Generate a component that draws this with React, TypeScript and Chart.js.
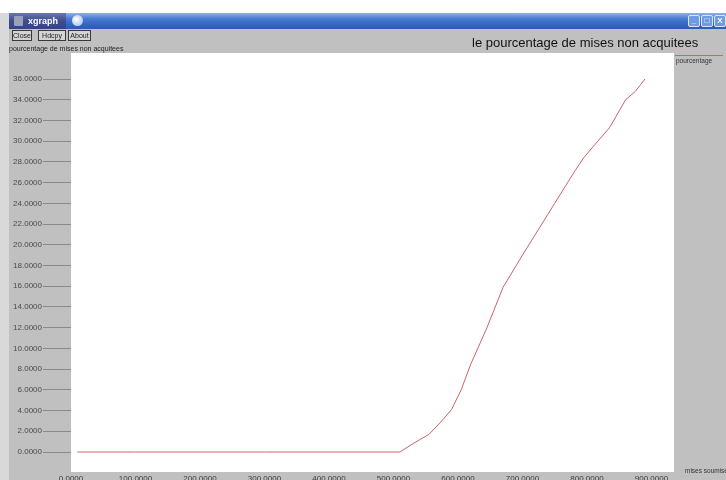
import React, { useEffect, useRef } from "react";
import { Chart, registerables } from "chart.js";

Chart.register(...registerables);

// ---- data ----
const xValues = [10, 100, 200, 300, 400, 500, 510, 530, 555, 575, 590, 605, 620, 645, 670, 700, 730, 750, 780, 795, 810, 835, 860, 875, 890];
const pctValues = [0, 0, 0, 0, 0, 0, 0, 0.8, 1.7, 3.0, 4.1, 6.0, 8.5, 12.0, 15.9, 19.0, 22.0, 24.0, 27.0, 28.4, 29.5, 31.3, 34.0, 34.8, 36.0];
const xTicks = [0, 100, 200, 300, 400, 500, 600, 700, 800, 900];
const yTicks = [0, 2, 4, 6, 8, 10, 12, 14, 16, 18, 20, 22, 24, 26, 28, 30, 32, 34, 36];

const windowTitle = "xgraph";
const buttonLabels = ["Close", "Hdcpy", "About"];
const chartTitle = "le pourcentage de mises non acquitees";
const yAxisLabel = "pourcentage de mises non acquitees";
const xAxisLabel = "mises soumises";
const seriesName = "pourcentage";

const FONT = "'Liberation Sans', Arial, sans-serif";
const CANVAS_H = 492;

const bgPlugin = {
  id: "bgPlugin",
  beforeDraw(chart: any) {
    const { ctx, width, height, chartArea } = chart;
    ctx.save();
    ctx.fillStyle = "#c0c0c0";
    ctx.fillRect(0, 0, width, height);
    ctx.fillStyle = "#d9d9d9";
    ctx.fillRect(0, 0, 9, height);
    ctx.fillStyle = "#ffffff";
    ctx.fillRect(chartArea.left, chartArea.top, chartArea.right - chartArea.left, chartArea.bottom - chartArea.top);
    ctx.restore();
  },
};

export default function App() {
  const ref = useRef<HTMLCanvasElement | null>(null);

  useEffect(() => {
    if (!ref.current) return;
    const chart = new Chart(ref.current, {
      type: "line",
      data: {
        datasets: [
          {
            label: seriesName,
            data: xValues.map((x, i) => ({ x, y: pctValues[i] })),
            borderColor: "#cd6468",
            borderWidth: 1,
            pointRadius: 0,
            tension: 0,
            fill: false,
          },
        ],
      },
      options: {
        animation: false,
        responsive: false,
        maintainAspectRatio: false,
        layout: { padding: { top: 53, right: 52, bottom: 0, left: 0 } },
        plugins: {
          legend: { display: false },
          title: { display: false },
          tooltip: { enabled: false },
        },
        scales: {
          x: {
            type: "linear",
            min: 0,
            max: 935,
            afterFit: (s: any) => {
              s.height = CANVAS_H - 472;
            },
            afterBuildTicks: (s: any) => {
              s.ticks = xTicks.map((v) => ({ value: v }));
            },
            grid: {
              display: true,
              drawOnChartArea: false,
              drawTicks: false,
              tickLength: 0,
              color: "rgba(0,0,0,0)",
            },
            border: { display: false },
            ticks: {
              autoSkip: false,
              maxRotation: 0,
              padding: 2,
              color: "#3a3a3a",
              font: { family: FONT, size: 8 },
              callback: (v: any) => Number(v).toFixed(4),
            },
          },
          y: {
            type: "linear",
            min: -1.93,
            max: 38.51,
            afterFit: (s: any) => {
              s.width = 71;
            },
            afterBuildTicks: (s: any) => {
              s.ticks = yTicks.map((v) => ({ value: v }));
            },
            grid: {
              drawOnChartArea: false,
              drawTicks: true,
              tickLength: 28,
              color: "#8a8a8a",
              lineWidth: 1,
            },
            border: { display: false },
            ticks: {
              autoSkip: false,
              padding: 1,
              color: "#4a4a4a",
              font: { family: FONT, size: 8 },
              callback: (v: any) => Number(v).toFixed(4),
            },
          },
        },
      },
      plugins: [bgPlugin],
    });
    return () => chart.destroy();
  }, []);

  const btnPos = [
    { left: 12, width: 20 },
    { left: 38, width: 28 },
    { left: 68, width: 23 },
  ];

  return (
    <div
      style={{
        position: "absolute",
        left: 0,
        top: 0,
        width: 726,
        height: 480,
        overflow: "hidden",
        fontFamily: FONT,
        background: "#c0c0c0",
      }}
    >
      <canvas
        ref={ref}
        width={726}
        height={CANVAS_H}
        style={{ position: "absolute", left: 0, top: 0, width: 726, height: CANVAS_H }}
      />
      {/* top white strip */}
      <div style={{ position: "absolute", left: 0, top: 0, width: 726, height: 13, background: "#ffffff" }} />
      {/* title bar */}
      <div
        style={{
          position: "absolute",
          left: 9,
          top: 13,
          width: 717,
          height: 16,
          background: "linear-gradient(to bottom, #8fb2ea 0%, #4a7bd0 35%, #3565c2 70%, #2d5bb5 100%)",
        }}
      />
      <div
        style={{
          position: "absolute",
          left: 9,
          top: 13,
          width: 57,
          height: 16,
          background: "linear-gradient(to bottom, #6a78b0 0%, #3e4d8e 50%, #36457f 100%)",
        }}
      />
      <div style={{ position: "absolute", left: 14, top: 16, width: 9, height: 10, background: "#9aa0b8", borderRadius: 1 }} />
      <div
        style={{
          position: "absolute",
          left: 28,
          top: 14,
          height: 14,
          lineHeight: "14px",
          fontSize: 9,
          fontWeight: "bold",
          color: "#ffffff",
        }}
      >
        {windowTitle}
      </div>
      <div
        style={{
          position: "absolute",
          left: 72,
          top: 15,
          width: 11,
          height: 11,
          borderRadius: 6,
          background: "radial-gradient(circle at 40% 40%, #ffffff, #9ab8e8)",
        }}
      />
      {/* window controls */}
      {["_", "\u25A1", "X"].map((g, i) => (
        <div
          key={i}
          style={{
            position: "absolute",
            left: 688 + i * 13,
            top: 15,
            width: 12,
            height: 12,
            background: "#6f9be2",
            border: "1px solid #dbe6f7",
            boxSizing: "border-box",
            borderRadius: 2,
            color: "#ffffff",
            fontSize: 8,
            lineHeight: "10px",
            textAlign: "center",
            fontWeight: "bold",
          }}
        >
          {g}
        </div>
      ))}
      {/* buttons */}
      {buttonLabels.map((b, i) => (
        <div
          key={b}
          style={{
            position: "absolute",
            left: btnPos[i].left,
            top: 30,
            width: btnPos[i].width,
            height: 11,
            boxSizing: "border-box",
            border: "1px solid #3a3a3a",
            background: "#d4d4d4",
            fontSize: 7,
            lineHeight: "9px",
            textAlign: "center",
            color: "#222222",
          }}
        >
          {b}
        </div>
      ))}
      {/* main title */}
      <div
        style={{
          position: "absolute",
          left: 472,
          top: 36,
          fontSize: 13,
          lineHeight: "13px",
          color: "#111111",
          whiteSpace: "nowrap",
        }}
      >
        {chartTitle}
      </div>
      {/* y axis label */}
      <div
        style={{
          position: "absolute",
          left: 9,
          top: 45,
          fontSize: 7,
          lineHeight: "7px",
          color: "#222222",
          whiteSpace: "nowrap",
        }}
      >
        {yAxisLabel}
      </div>
      {/* legend */}
      <div style={{ position: "absolute", left: 675, top: 55, width: 48, height: 1, background: "#cd6468" }} />
      <div
        style={{
          position: "absolute",
          left: 676,
          top: 57,
          fontSize: 6.5,
          lineHeight: "7px",
          color: "#333333",
          whiteSpace: "nowrap",
        }}
      >
        {seriesName}
      </div>
      {/* x axis label */}
      <div
        style={{
          position: "absolute",
          left: 685,
          top: 467,
          fontSize: 6.5,
          lineHeight: "7px",
          color: "#333333",
          whiteSpace: "nowrap",
        }}
      >
        {xAxisLabel}
      </div>
    </div>
  );
}
